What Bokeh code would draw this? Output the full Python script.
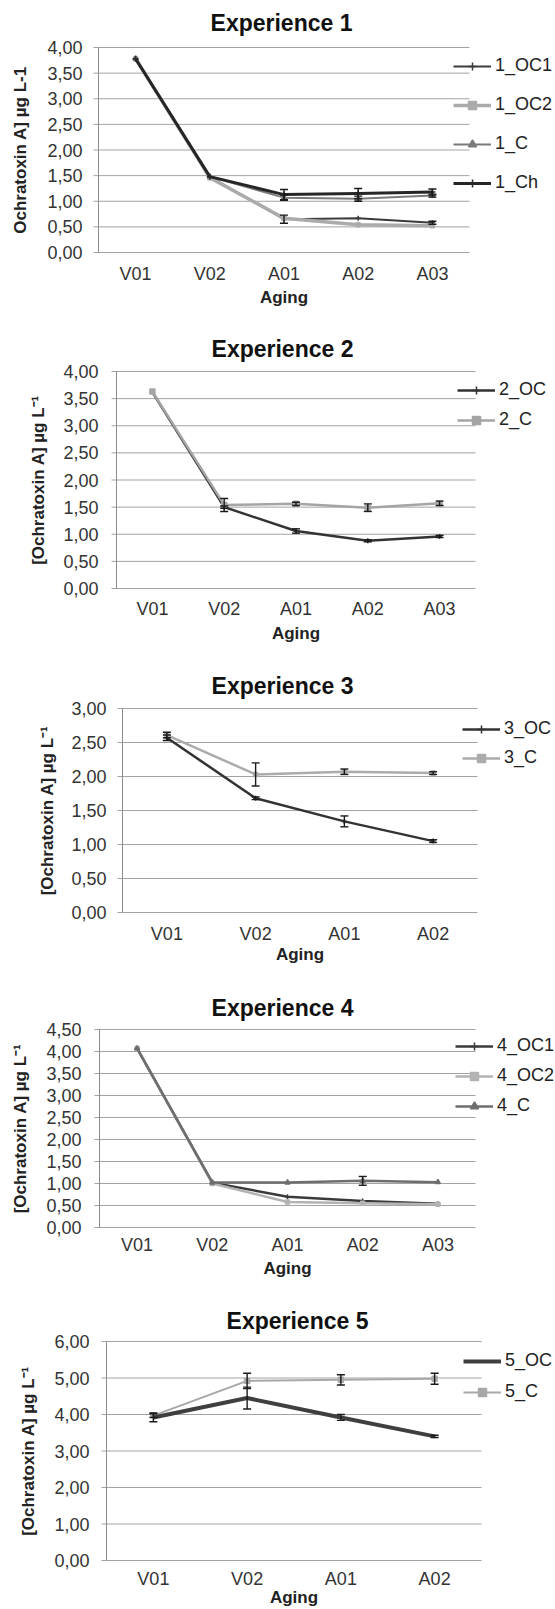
import math
from bokeh.plotting import figure
from bokeh.models import (ColumnDataSource, Range1d, Legend, LegendItem, Whisker, TeeHead)
from bokeh.core.properties import value
from bokeh.layouts import column
from bokeh.embed import file_html
from bokeh.resources import INLINE

FONT = "Liberation Sans"
W = 555

# ---------------- data ----------------
STAGES_5 = ["V01", "V02", "A01", "A02", "A03"]
STAGES_4 = ["V01", "V02", "A01", "A02"]

YTICKS_4 = [0.0, 0.5, 1.0, 1.5, 2.0, 2.5, 3.0, 3.5, 4.0]
YTICKS_3 = [0.0, 0.5, 1.0, 1.5, 2.0, 2.5, 3.0]
YTICKS_45 = [0.0, 0.5, 1.0, 1.5, 2.0, 2.5, 3.0, 3.5, 4.0, 4.5]
YTICKS_6 = [0.0, 1.0, 2.0, 3.0, 4.0, 5.0, 6.0]

# Experience 1
E1_OC1 = [3.78, 1.48, 0.65, 0.67, 0.58]
E1_OC1_ERR = [0.0, 0.0, 0.08, 0.0, 0.03]
E1_OC2 = [3.78, 1.46, 0.67, 0.54, 0.52]
E1_OC2_ERR = [0.0, 0.0, 0.0, 0.0, 0.0]
E1_C = [3.78, 1.48, 1.07, 1.05, 1.11]
E1_C_ERR = [0.0, 0.0, 0.05, 0.05, 0.03]
E1_CH = [3.78, 1.48, 1.13, 1.15, 1.18]
E1_CH_ERR = [0.0, 0.0, 0.1, 0.1, 0.06]

# Experience 2
E2_OC = [3.62, 1.50, 1.06, 0.88, 0.96]
E2_OC_ERR = [0.0, 0.02, 0.04, 0.02, 0.02]
E2_C = [3.63, 1.54, 1.56, 1.49, 1.57]
E2_C_ERR = [0.0, 0.12, 0.03, 0.07, 0.04]

# Experience 3
E3_OC = [2.57, 1.68, 1.34, 1.05]
E3_OC_ERR = [0.04, 0.02, 0.08, 0.02]
E3_C = [2.61, 2.03, 2.07, 2.05]
E3_C_ERR = [0.04, 0.17, 0.04, 0.02]

# Experience 4
E4_OC1 = [4.07, 1.02, 0.70, 0.60, 0.54]
E4_OC1_ERR = [0.0, 0.0, 0.0, 0.0, 0.0]
E4_OC2 = [4.07, 1.00, 0.58, 0.55, 0.53]
E4_OC2_ERR = [0.0, 0.0, 0.0, 0.0, 0.0]
E4_C = [4.07, 1.02, 1.02, 1.06, 1.03]
E4_C_ERR = [0.0, 0.0, 0.0, 0.1, 0.0]

# Experience 5
E5_OC = [3.92, 4.45, 3.92, 3.40]
E5_OC_ERR = [0.12, 0.30, 0.08, 0.03]
E5_C = [3.97, 4.92, 4.95, 4.98]
E5_C_ERR = [0.05, 0.21, 0.14, 0.15]

YLABEL_1 = "Ochratoxin A] \u00b5g L-1"
YLABEL = "[Ochratoxin A] \u00b5g L\u207b\u00b9"
XLABEL = "Aging"


def fmt(t):
    return f"{t:.2f}".replace(".", ",")


def panel(title, stages, ymax, yticks, ylabel, series, order, g):
    n = len(stages)
    L, R, T, B, top, H = g["L"], g["R"], g["T"], g["B"], g["top"], g["H"]
    cw = (R - L) / n

    def xd(px):
        return (px - L) / cw - 0.5

    def yd(py):
        return (B - py) / (B - T) * ymax

    p = figure(width=W, height=H, x_range=Range1d(xd(0), xd(W)),
               y_range=Range1d(yd(top + H), yd(top)),
               output_backend="svg", toolbar_location=None,
               x_axis_location=None, y_axis_location=None, title_location=None,
               min_border=0, min_border_left=0, min_border_right=0,
               min_border_top=0, min_border_bottom=0)
    p.outline_line_color = None
    p.background_fill_color = "white"
    p.border_fill_color = "white"
    for gr in p.grid:
        gr.visible = False

    idx = list(range(n))
    x_first, x_last = -0.5, n - 0.5

    # horizontal gridlines (with the small outer tick on the left)
    p.segment(x0=[xd(L - 5)] * len(yticks), x1=[x_last] * len(yticks),
              y0=yticks, y1=yticks, line_color="#a3a3a3", line_width=1)
    # vertical value axis line
    p.segment(x0=[x_first], x1=[x_first], y0=[0], y1=[ymax],
              line_color="#8c8c8c", line_width=1)

    # value axis tick labels
    p.text(x=[xd(g["tick_r"])] * len(yticks), y=yticks, text=[fmt(t) for t in yticks],
           text_align="right", text_baseline="middle", text_font=value(FONT),
           text_font_size=value("18px"), text_color="#333333")
    # category axis tick labels
    p.text(x=idx, y=[yd(g["xtick_y"])] * n, text=stages,
           text_align="center", text_baseline="middle", text_font=value(FONT),
           text_font_size=value("18px"), text_color="#333333")
    # axis titles
    p.text(x=[(n - 1) / 2], y=[yd(g["aging_y"])], text=[XLABEL],
           text_align="center", text_baseline="middle", text_font=value(FONT),
           text_font_size=value("17px"), text_font_style="bold", text_color="#222222")
    p.text(x=[xd(g["ylab_x"])], y=[ymax / 2], text=[ylabel], angle=math.pi / 2,
           text_align="center", text_baseline="middle", text_font=value(FONT),
           text_font_size=value("17px"), text_font_style="bold", text_color="#222222")
    # chart title
    p.text(x=[xd(g["title"][0])], y=[yd(g["title"][1])], text=[title],
           text_align="center", text_baseline="middle", text_font=value(FONT),
           text_font_size=value("23px"), text_font_style="bold", text_color="#111111")

    items = {}
    for name, vals, errs, color, lw, marker, msize in series:
        rl = p.line(idx, vals, line_color=color, line_width=lw, line_join="round")
        rends = [rl]
        if marker is not None:
            rs = p.scatter(idx, vals, marker=marker, size=msize,
                           line_color=color, fill_color=color, line_width=1.5)
            rends.append(rs)
        items[name] = LegendItem(label=value(name), renderers=rends)
    for name, vals, errs, color, lw, marker, msize in series:
        xs = [i for i, e in zip(idx, errs) if e > 0]
        if not xs:
            continue
        up = [v + e for v, e in zip(vals, errs) if e > 0]
        lo = [v - e for v, e in zip(vals, errs) if e > 0]
        src = ColumnDataSource(dict(x=xs, upper=up, lower=lo))
        w = Whisker(base="x", upper="upper", lower="lower", source=src,
                    line_color="#1a1a1a", line_width=1.4, level="annotation",
                    upper_head=TeeHead(size=8, line_color="#1a1a1a", line_width=1.4),
                    lower_head=TeeHead(size=8, line_color="#1a1a1a", line_width=1.4))
        p.add_layout(w)

    k = len(order)
    last_c = g["leg_first"] + (k - 1) * (20 + g["lsp"])
    y_bottom = (top + H) - (last_c + 10) - 4
    leg = Legend(items=[items[nm] for nm in order], location=(g["leg_x"], y_bottom),
                 orientation="vertical", border_line_color=None, background_fill_alpha=0,
                 label_text_font=FONT, label_text_font_size="18px",
                 label_text_color="#222222", glyph_width=38, glyph_height=20,
                 label_height=20, label_standoff=4, spacing=g["lsp"],
                 padding=0, margin=0)
    p.add_layout(leg)
    return p


p1 = panel("Experience 1", STAGES_5, 4, YTICKS_4, YLABEL_1, [
    ("1_OC1", E1_OC1, E1_OC1_ERR, "#3c3c3c", 2, "cross", 5),
    ("1_OC2", E1_OC2, E1_OC2_ERR, "#ababab", 3.5, "square", 4),
    ("1_C", E1_C, E1_C_ERR, "#7a7a7a", 2, "triangle", 5),
    ("1_Ch", E1_CH, E1_CH_ERR, "#262626", 3, "cross", 6),
], ["1_OC1", "1_OC2", "1_C", "1_Ch"],
    dict(top=0, H=320, L=98, R=469, T=47, B=252, title=(281, 22), ylab_x=20,
         tick_r=82, xtick_y=273, aging_y=297, leg_x=453, leg_first=65, lsp=18))

p2 = panel("Experience 2", STAGES_5, 4, YTICKS_4, YLABEL, [
    ("2_OC", E2_OC, E2_OC_ERR, "#333333", 2.5, "cross", 5),
    ("2_C", E2_C, E2_C_ERR, "#a5a5a5", 2.5, "square", 5),
], ["2_OC", "2_C"],
    dict(top=320, H=335, L=116, R=475, T=371, B=588, title=(282, 348), ylab_x=38,
         tick_r=98, xtick_y=608, aging_y=633, leg_x=457, leg_first=387, lsp=9))

p3 = panel("Experience 3", STAGES_4, 3, YTICKS_3, YLABEL, [
    ("3_OC", E3_OC, E3_OC_ERR, "#333333", 2.5, "cross", 5),
    ("3_C", E3_C, E3_C_ERR, "#ababab", 2.5, "square", 4),
], ["3_OC", "3_C"],
    dict(top=655, H=320, L=122, R=477, T=708, B=912, title=(282, 685), ylab_x=47,
         tick_r=106, xtick_y=933, aging_y=954, leg_x=462, leg_first=726, lsp=8))

p4 = panel("Experience 4", STAGES_5, 4.5, YTICKS_45, YLABEL, [
    ("4_OC1", E4_OC1, E4_OC1_ERR, "#3a3a3a", 2.5, "cross", 5),
    ("4_OC2", E4_OC2, E4_OC2_ERR, "#b3b3b3", 2.5, "square", 4),
    ("4_C", E4_C, E4_C_ERR, "#6e6e6e", 2.5, "triangle", 5),
], ["4_OC1", "4_OC2", "4_C"],
    dict(top=975, H=315, L=99, R=475, T=1029, B=1227, title=(282, 1007), ylab_x=20,
         tick_r=81, xtick_y=1244, aging_y=1268, leg_x=455, leg_first=1044, lsp=9))

p5 = panel("Experience 5", STAGES_4, 6, YTICKS_6, YLABEL, [
    ("5_C", E5_C, E5_C_ERR, "#a8a8a8", 2, "square", 5),
    ("5_OC", E5_OC, E5_OC_ERR, "#3f3f3f", 4, None, 0),
], ["5_OC", "5_C"],
    dict(top=1290, H=319, L=106, R=481, T=1341, B=1560, title=(297, 1320), ylab_x=28,
         tick_r=89, xtick_y=1578, aging_y=1597, leg_x=463, leg_first=1358, lsp=10))

layout = column(p1, p2, p3, p4, p5, spacing=0)
open("out.html", "w").write(file_html(layout, INLINE))
